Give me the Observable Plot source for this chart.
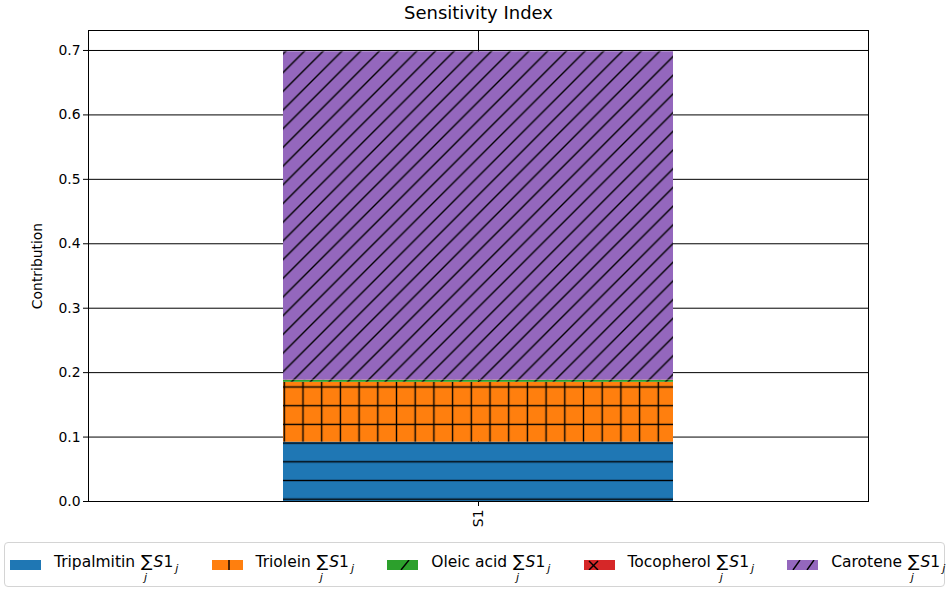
<!DOCTYPE html>
<html>
<head>
<meta charset="utf-8">
<script src="https://cdn.jsdelivr.net/npm/d3@7"></script>
<script src="https://cdn.jsdelivr.net/npm/@observablehq/plot@0.6"></script>
<style>
  body { margin: 0; background: #fff; font-family: "DejaVu Sans", sans-serif; }
  #wrap { position: relative; width: 947px; height: 591px; }
  #legend {
    position: absolute; left: 4px; top: 542px; width: 941px; height: 45px;
    border: 1px solid #d4d4d4; border-radius: 4px; box-sizing: border-box;
    display: flex; align-items: center; padding-left: 5px;
    font-size: 15.5px; color: #000;
  }
  .item { display: flex; align-items: center; margin-right: 33.2px; white-space: nowrap; }
  .item svg { margin-right: 13px; flex: none; }
  .lab { position: relative; top: -1px; line-height: 1; }
  .sum { display: inline-block; position: relative; font-size: 17px; margin-left: 1px; line-height: 1; }
  .sum .lim { position: absolute; left: 25%; top: 19px; font-size: 11px; font-style: italic; line-height: 1; }
  .s1 { font-style: italic; margin-left: 1px; }
  .lab sub { font-size: 11px; font-style: italic; margin-left: 2px; line-height: 1; }
</style>
</head>
<body>
<div id="wrap">
  <div id="chart"></div>
  <div id="legend"></div>
</div>
<script>
// ---- data ----
const categories = ["Tripalmitin", "Triolein", "Oleic acid", "Tocopherol", "Carotene"];
const values = [0.092, 0.093, 0.003, 0.0005, 0.5095];
const colors = ["#1f77b4", "#ff7f0e", "#2ca02c", "#d62728", "#9467bd"];
const hatches = ["-", "+", "/", "x", "//"];
const sampleLabels = ["S1"];
const yTicks = [0.0, 0.1, 0.2, 0.3, 0.4, 0.5, 0.6, 0.7];
const titleText = "Sensitivity Index";
const yLabel = "Contribution";

const data = categories.map((c, i) => ({
  sample: sampleLabels[0],
  category: c,
  value: values[i],
  pattern: `url(#hatch-${i})`
}));

// ---- chart ----
const chart = Plot.plot({
  width: 947,
  height: 538,
  marginTop: 30,
  marginLeft: 88,
  marginRight: 79,
  marginBottom: 37,
  style: { fontFamily: "DejaVu Sans, sans-serif", fontSize: "13.9px", color: "black", background: "white", overflow: "visible" },
  x: { domain: sampleLabels, paddingInner: 0, paddingOuter: 0.5, tickRotate: -90, tickSize: 5, tickPadding: 3, label: null },
  y: { domain: [0, 0.731], ticks: yTicks, tickFormat: d3.format(".1f"), tickSize: 5, tickPadding: 3, label: null },
  color: { type: "identity" },
  marks: [
    Plot.ruleY(yTicks, { stroke: "black", strokeWidth: 1 }),
    Plot.ruleX(sampleLabels, { stroke: "black", strokeWidth: 1 }),
    Plot.barY(data, Plot.stackY({ x: "sample", y: "value", fill: "pattern", title: "category" })),
    Plot.frame({ stroke: "black" }),
    Plot.text([titleText], { frameAnchor: "top", lineAnchor: "middle", dy: -17.5, fontSize: 18, fill: "black" }),
    Plot.text([yLabel], { frameAnchor: "left", textAnchor: "middle", lineAnchor: "middle", rotate: -90, dx: -51, fontSize: 13.9, fill: "black" })
  ]
});
document.getElementById("chart").appendChild(chart);

// ---- hatch patterns ----
const T = 18.7;
const svg = d3.select(chart);
const defs = svg.insert("defs", ":first-child");
function addLines(g, type, size) {
  const L = (x1, y1, x2, y2) => g.append("line").attr("x1", x1).attr("y1", y1).attr("x2", x2).attr("y2", y2)
    .attr("stroke", "#000").attr("stroke-width", 1.4);
  if (type === "-" || type === "+") L(-1, size / 2, size + 1, size / 2);
  if (type === "+") L(size / 2, -1, size / 2, size + 1);
  if (type === "/" || type === "//" || type === "x") {
    L(-2, size + 2, size + 2, -2); L(-2, 2, 2, -2); L(size - 2, size + 2, size + 2, size - 2);
  }
  if (type === "x") {
    L(-2, -2, size + 2, size + 2); L(size - 2, -2, size + 2, 2); L(-2, size - 2, 2, size + 2);
  }
}
hatches.forEach((h, i) => {
  let ox = 0, oy = 0.3;
  if (h === "-" || h === "+") { ox = 3.8 - T / 2; oy = 13 - T / 2; }
  const p = defs.append("pattern").attr("id", `hatch-${i}`).attr("patternUnits", "userSpaceOnUse")
    .attr("x", ox).attr("y", oy).attr("width", T).attr("height", T);
  p.append("rect").attr("width", T).attr("height", T).attr("fill", colors[i]);
  addLines(p, h, T);
});

// ---- legend ----
const legend = d3.select("#legend");
categories.forEach((c, i) => {
  const item = legend.append("div").attr("class", "item");
  const sw = item.append("svg").attr("width", 31).attr("height", 10);
  sw.append("rect").attr("width", 31).attr("height", 10).attr("fill", colors[i]);
  const L = (x1, y1, x2, y2) => sw.append("line").attr("x1", x1).attr("y1", y1).attr("x2", x2).attr("y2", y2)
    .attr("stroke", "#000").attr("stroke-width", 1.4);
  const h = hatches[i];
  if (h === "+") L(17, 0, 17, 10);
  if (h === "/") { L(14, 10, 22, 0); }
  if (h === "//") { L(6, 10, 13, 0); L(20, 10, 27, 0); }
  if (h === "x") { L(5, 1, 14, 10); L(5, 10, 14, 1); }
  const lab = item.append("span").attr("class", "lab");
  lab.html(`${c} <span class="sum">∑<span class="lim">j</span></span><span class="s1">S</span>1<sub>j</sub>`);
});
</script>
</body>
</html>
